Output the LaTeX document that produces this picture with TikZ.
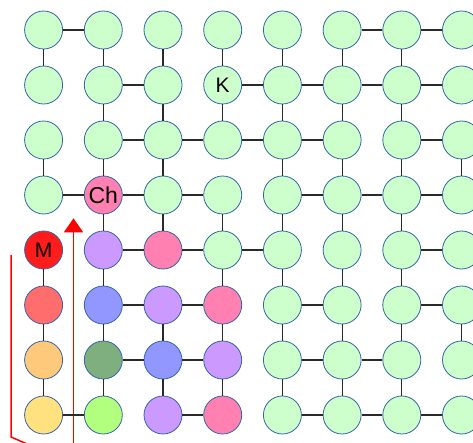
\documentclass[tikz,border=0pt]{standalone}
\usepackage{fontspec}
\setmainfont{Liberation Sans}
\usetikzlibrary{arrows.meta}
\definecolor{cgreen}{HTML}{CCFFCC}
\definecolor{cborder}{HTML}{3465A4}
\definecolor{clink}{HTML}{2A2A2A}
\definecolor{cred}{HTML}{FF1C1C}
\definecolor{csalmon}{HTML}{FF6D6D}
\definecolor{cpeach}{HTML}{FFC97C}
\definecolor{cyellow}{HTML}{FFE17F}
\definecolor{cpink}{HTML}{FF80B1}
\definecolor{clav}{HTML}{CC99FF}
\definecolor{cblue}{HTML}{9297FF}
\definecolor{cdgreen}{HTML}{7FAF7F}
\definecolor{clgreen}{HTML}{B2FF7F}
\definecolor{cmark}{HTML}{FF0000}
\definecolor{cmarkb}{HTML}{FE0101}
\newfontfamily\lblfont{Liberation Sans}
\expandafter\def\csname t1-5\endcsname{M}
\expandafter\def\csname t2-4\endcsname{Ch}
\expandafter\def\csname t4-2\endcsname{K}
\begin{document}
\begin{tikzpicture}[x=1pt,y=-1pt,
  cell/.style={circle,draw=cborder,line width=0.8pt,fill=cgreen,minimum size=38pt,inner sep=0pt},
  lbl/.style={font=\lblfont\fontsize{21}{23}\selectfont},
  biglbl/.style={font=\lblfont\fontsize{23}{25}\selectfont},
  link/.style={draw=clink,line width=1.2pt},
  redline/.style={draw=cmark,line width=1.6pt},
  redlineb/.style={draw=cmarkb,line width=1.5pt},
  s1-5/.style={fill=cred,lbl}, s1-6/.style={fill=csalmon}, s1-7/.style={fill=cpeach}, s1-8/.style={fill=cyellow},
  s2-4/.style={fill=cpink,biglbl}, s2-5/.style={fill=clav}, s2-6/.style={fill=cblue}, s2-7/.style={fill=cdgreen}, s2-8/.style={fill=clgreen},
  s3-5/.style={fill=cpink}, s3-6/.style={fill=clav}, s3-7/.style={fill=cblue}, s3-8/.style={fill=clav},
  s4-2/.style={lbl},
  s4-6/.style={fill=cpink}, s4-7/.style={fill=clav}, s4-8/.style={fill=cpink}]
\useasboundingbox (0,0) rectangle (473,443);
% red arrow
\coordinate (a0) at (73.5,443.5);
\coordinate (a1) at (73.5,218.3);
\draw[redline,-{Triangle[width=19pt,length=14pt]}] (a0) -- (a1);
\fill[cmark] (72.7,230) rectangle (74.3,443.5);
\foreach \c in {1,...,8}{
  \foreach \r in {1,...,8}{
    \node[cell,s\c-\r/.try] (n\c-\r) at ({43.6+59.7*(\c-1)},{30+55*(\r-1)}) {\csname t\c-\r\endcsname};
  }
}
% horizontal links
\foreach \r/\cs in {1/{1,6,7},2/{2,4,5,6,7},3/{2,3,4,5,7},4/{1,2,3,5,6,7},5/{2,3,4,7},6/{2,3,5,7},7/{2,3,5,6},8/{1,3,5,6,7}}{
  \foreach \c in \cs {
    \pgfmathtruncatemacro\d{\c+1}
    \draw[link] (n\c-\r) -- (n\d-\r);
  }
}
% vertical links
\foreach \c/\rs in {1/{1,3,5,6,7},2/{1,2,3,4,5,6,7},3/{1,2,3,4,6,7},4/{1,2,4,5,6,7},5/{1,2,3,4,5,6,7},6/{1,2,3,4,5,6,7},7/{1,2,3,4,5,6,7},8/{3,6}}{
  \foreach \r in \rs {
    \pgfmathtruncatemacro\d{\r+1}
    \draw[link] (n\c-\r) -- (n\c-\d);
  }
}
% red bracket
\coordinate (b1) at (11,255);
\coordinate (b2) at (11,437);
\coordinate (b3) at (26,443.5);
\draw[redlineb] (b1) -- (b2) -- (b3);
\end{tikzpicture}
\end{document}
